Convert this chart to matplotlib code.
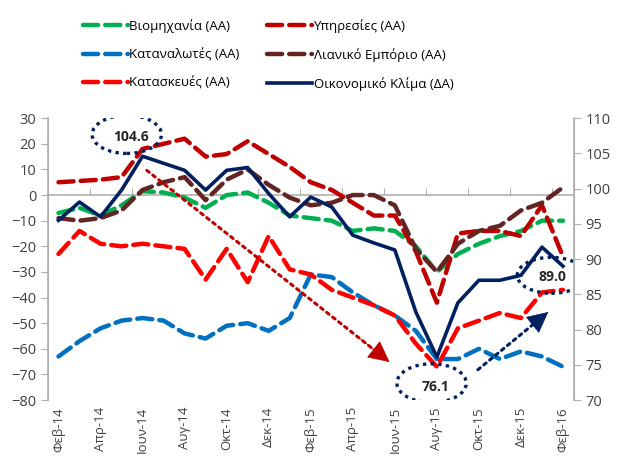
import matplotlib
matplotlib.use("Agg")
import matplotlib.pyplot as plt
from matplotlib.patches import Ellipse
import numpy as np

plt.rcParams['font.family'] = ['Open Sans', 'DejaVu Sans']

months = ["Φεβ-14", "Μαρ-14", "Απρ-14", "Μαϊ-14", "Ιουν-14", "Ιουλ-14", "Αυγ-14", "Σεπ-14",
          "Οκτ-14", "Νοε-14", "Δεκ-14", "Ιαν-15", "Φεβ-15", "Μαρ-15", "Απρ-15", "Μαϊ-15",
          "Ιουν-15", "Ιουλ-15", "Αυγ-15", "Σεπ-15", "Οκτ-15", "Νοε-15", "Δεκ-15", "Ιαν-16", "Φεβ-16"]

industry = [-7, -5, -8, -4, 1.5, 1, -1, -5, 0, 1, -3, -8, -9,
            -10, -14, -13, -14, -20, -30, -23, -19, -16, -14, -10, -10]
services = [5, 5.5, 6, 7, 18, 20, 22, 15, 16, 21, 16, 11, 5,
            2, -3, -8, -8, -22, -42, -15, -14, -14, -16, -4, -24]
consumers = [-63, -57, -52, -49, -48, -49, -54, -56, -51, -50, -53, -48, -31,
             -32, -38, -43, -47, -53, -64, -64, -60, -64, -61, -63, -67]
retail = [-9, -10, -9, -6, 2, 5, 7, -2, 6, 10, 4, -1, -4,
          -3, 0, 0, -4, -21, -30, -19, -14, -12, -6, -3, 3]
construction = [-23, -14, -19, -20, -19, -20, -21, -33, -21, -34, -16, -29, -31,
                -37, -40, -43, -47, -58, -67, -52, -49, -46, -48, -38, -37]
climate = [95.5, 98.1, 96.0, 99.8, 104.6, 103.6, 102.6, 99.8, 102.6, 103.0, 99.3, 96.0, 98.8,
           97.4, 93.4, 92.3, 91.3, 82.5, 76.1, 83.8, 87.0, 87.0, 87.7, 91.7, 89.0]

x = np.arange(len(months))
gray = "#b0b0b0"
navy = "#002060"

fig = plt.figure(figsize=(6.19, 4.69), dpi=100)
ax = fig.add_axes([0.0775, 0.147, 0.849, 0.601])
ax2 = ax.twinx()

dash = dict(lw=3.2, dashes=(3.4, 1.6), dash_capstyle='round')
h1, = ax.plot(x, industry, color="#00B050", label="Βιομηχανία (ΑΑ)", **dash)
h2, = ax.plot(x, consumers, color="#0070C0", label="Καταναλωτές (ΑΑ)", **dash)
h3, = ax.plot(x, construction, color="#FF0000", label="Κατασκευές (ΑΑ)", **dash)
h4, = ax.plot(x, services, color="#C00000", label="Υπηρεσίες (ΑΑ)", **dash)
h5, = ax.plot(x, retail, color="#632523", label="Λιανικό Εμπόριο (ΑΑ)", **dash)
h6, = ax2.plot(x, climate, color=navy, lw=2.6, label="Οικονομικό Κλίμα (ΔΑ)")

ax.set_xlim(-0.5, len(months) - 0.5)
ax.set_ylim(-80, 30)
ax2.set_ylim(70, 110)
ax.set_yticks(range(-80, 31, 10))
ax2.set_yticks(range(70, 111, 5))

ax.set_xticks(x[::2])
ax.set_xticklabels(months[::2], rotation=90, fontsize=9.5, color="#404040")
ax.tick_params(axis='x', length=0, pad=5)
ax.tick_params(axis='y', labelsize=10.5, colors="#404040", color=gray, length=5)
ax2.tick_params(axis='y', labelsize=10.5, colors="#404040", color=gray, length=5)

for a in (ax, ax2):
    a.spines['top'].set_visible(False)
    a.spines['bottom'].set_visible(False)
    a.spines['left'].set_color(gray)
    a.spines['right'].set_color(gray)
ax.spines['left'].set_linewidth(1.2)
ax2.spines['right'].set_linewidth(1.2)

# zero line with category tick marks
sec = ax.secondary_xaxis(80 / 110)
sec.set_xticks(x[1::2] + 0.5)
sec.set_xticklabels([])
sec.tick_params(length=5, color=gray, direction='out')
for sp in sec.spines.values():
    sp.set_color(gray)
    sp.set_linewidth(1.2)

# annotations
ell = dict(fill=False, ec=navy, lw=2.4, ls=(0, (1, 1.3)))
ip = int(np.argmax(climate))
im = int(np.argmin(climate))
il = len(climate) - 1
ax2.add_patch(Ellipse((ip - 0.75, climate[ip] + 3.1), 3.3, 5.4, **ell))
ax2.text(ip - 0.55, climate[ip] + 2.8, f"{climate[ip]:.1f}", ha='center', va='center',
         fontsize=10, fontweight='bold', color="#262626")
ax2.add_patch(Ellipse((im - 0.25, climate[im] - 3.7), 3.3, 5.5, **ell))
ax2.text(im - 0.05, climate[im] - 4.2, f"{climate[im]:.1f}", ha='center', va='center',
         fontsize=10, fontweight='bold', color="#262626")
ax2.add_patch(Ellipse((il - 0.55, climate[il] - 1.3), 3.25, 5.1, **ell))
ax2.text(il - 0.5, climate[il] - 1.6, f"{climate[il]:.1f}", ha='center', va='center',
         fontsize=10, fontweight='bold', color="#262626")


def dotted_arrow(start, end, color):
    ax2.annotate("", xy=end, xytext=start,
                 arrowprops=dict(arrowstyle='-', color=color, lw=2.2, ls=(0, (1, 1.5)),
                                 shrinkA=0, shrinkB=4))
    back = (end[0] - 0.12 * (end[0] - start[0]), end[1] - 0.12 * (end[1] - start[1]))
    ax2.annotate("", xy=end, xytext=back,
                 arrowprops=dict(arrowstyle='-|>,head_length=1.0,head_width=0.5', color=color,
                                 lw=0.5, mutation_scale=14, shrinkA=0, shrinkB=0))


dotted_arrow((ip + 0.2, climate[ip] - 2.0), (im - 2.25, climate[im] - 0.7), "#C00000")
dotted_arrow((im + 1.95, climate[im] - 1.8), (il - 0.7, climate[il] - 6.5), navy)

fig.legend(handles=[h1, h2, h3, h4, h5, h6], ncol=2, loc='upper left',
           bbox_to_anchor=(0.115, 0.985), frameon=False, fontsize=9.5,
           handlelength=3.4, handletextpad=0.1, columnspacing=2.1, labelspacing=1.15)

fig.savefig("out.png", dpi=100)
